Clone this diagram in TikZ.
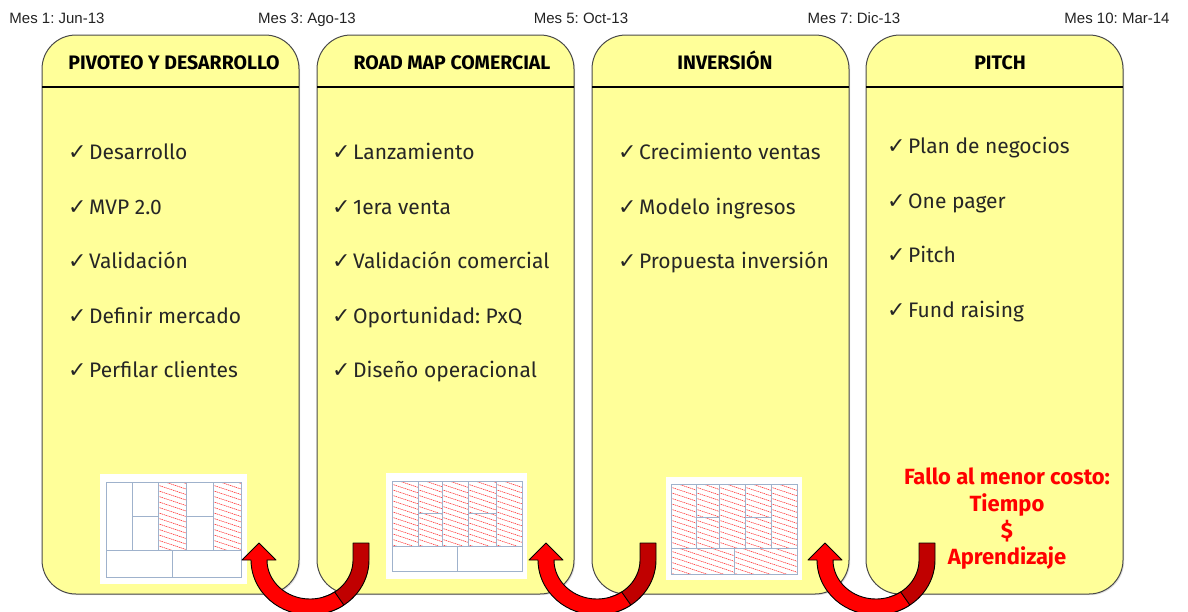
\documentclass[tikz,border=0pt]{standalone}
\usepackage{fontspec}
\setmainfont{Fira Sans}
\newfontfamily\arialf{Liberation Sans}
\newfontfamily\chkf{DejaVu Sans}
\usetikzlibrary{shadows}
\frenchspacing
\definecolor{boxyellow}{HTML}{FFFF99}
\definecolor{boxline}{HTML}{4A4A4A}
\definecolor{gridblue}{HTML}{9FB2CC}
\definecolor{arrowred}{HTML}{FF0000}
\definecolor{arrowdark}{HTML}{C00000}
\definecolor{labelgray}{HTML}{222222}
\newcommand\chk{\makebox[21pt][l]{\chkf\fontsize{22}{24}\selectfont ✓}}
\newcommand\hatchrect[4]{%
  \begin{scope}
    \clip (#1,#2) rectangle (#3,#4);
    \foreach \k in {0,...,22} {\draw[hatchline] (#1-2,{#2-14+5.5*\k}) -- ++(90,30);}
  \end{scope}}
\begin{document}
\begin{tikzpicture}[x=1pt,y=-1pt,
  phase/.style={draw=boxline,line width=1pt,fill=boxyellow,rounded corners=34pt,
    drop shadow={opacity=0.25,shadow xshift=1.2pt,shadow yshift=-1.2pt}},
  hdrline/.style={black,line width=1.6pt},
  hdr/.style={anchor=base,font=\bfseries\fontsize{19.5}{22}\selectfont,text=black,inner sep=0pt},
  item/.style={anchor=base west,font=\fontsize{21}{24}\selectfont,text=black!85,inner sep=0pt},
  mes/.style={anchor=base,font=\arialf\fontsize{15}{18}\selectfont,text=labelgray,inner sep=0pt},
  canvasbg/.style={fill=white,draw=none},
  grid/.style={draw=gridblue,line width=0.9pt},
  hatchline/.style={red!85,line width=0.55pt,dash pattern=on 1.3pt off 0.7pt},
  back/.style={fill=arrowdark,draw=black,line width=0.9pt,line join=round},
  front/.style={fill=arrowred,draw=black,line width=0.9pt,line join=round},
  fail/.style={align=center,font=\bfseries\fontsize{22}{26.7}\selectfont,text=arrowred,inner sep=0pt}]
\useasboundingbox (0,0) rectangle (1188,611);
\clip (0,0) rectangle (1188,611);

% timeline labels
\node[mes] (m1) at (57,23.5) {Mes 1: Jun-13};
\node[mes] (m3) at (307,23.5) {Mes 3: Ago-13};
\node[mes] (m5) at (581,23.5) {Mes 5: Oct-13};
\node[mes] (m7) at (854,23.5) {Mes 7: Dic-13};
\node[mes] (m10) at (1117,23.5) {Mes 10: Mar-14};

% phase boxes
\foreach \xl/\nm in {42/b1,317/b2,592/b3,866/b4}{
  \path[phase] (\xl,35) rectangle ++(257,559);
  \draw[hdrline] (\xl,87) -- ++(257,0);
}

% headers
\node[hdr] (h1) at (174,69) {PIVOTEO Y DESARROLLO};
\node[hdr] (h2) at (452,69) {ROAD MAP COMERCIAL};
\node[hdr] (h3) at (725,69) {INVERSIÓN};
\node[hdr] (h4) at (1000,69) {PITCH};

% items box 1
\node[item] (a1) at (68,159) {\chk Desarrollo};
\node[item] (a2) at (68,214) {\chk MVP 2.0};
\node[item] (a3) at (68,268) {\chk Validación};
\node[item] (a4) at (68,323) {\chk Definir mercado};
\node[item] (a5) at (68,377) {\chk Perfilar clientes};
% items box 2
\node[item] (c1) at (332,159) {\chk Lanzamiento};
\node[item] (c2) at (332,214) {\chk 1era venta};
\node[item] (c3) at (332,268) {\chk Validación comercial};
\node[item] (c4) at (332,323) {\chk Oportunidad: PxQ};
\node[item] (c5) at (332,377) {\chk Diseño operacional};
% items box 3
\node[item] (d1) at (618,159) {\chk Crecimiento ventas};
\node[item] (d2) at (618,214) {\chk Modelo ingresos};
\node[item] (d3) at (618,268) {\chk Propuesta inversión};
% items box 4
\node[item] (e1) at (887,153) {\chk Plan de negocios};
\node[item] (e2) at (887,208) {\chk One pager};
\node[item] (e3) at (887,262) {\chk Pitch};
\node[item] (e4) at (887,317) {\chk Fund raising};

% red message
\node[fail] (fail) at (1007,519) {Fallo al menor costo:\\Tiempo\\\$\\Aprendizaje};

% canvas 1
\path[canvasbg] (100,474) rectangle (247,584);
\hatchrect{158}{482}{186}{550}
\hatchrect{213}{482}{241}{550}
\draw[grid] (106,482) rectangle (241,577);
\draw[grid] (106,550) -- (241,550);
\foreach \xx in {132,158,186,213} {\draw[grid] (\xx,482) -- (\xx,550);}
\draw[grid] (132,516) -- (158,516) (186,516) -- (213,516);
\draw[grid] (172,550) -- (172,577);

% canvas 2
\path[canvasbg] (386,473) rectangle (527,579);
\hatchrect{392}{481}{418}{546}
\hatchrect{418}{481}{442}{546}
\hatchrect{442}{481}{468}{546}
\hatchrect{468}{481}{496}{546}
\hatchrect{496}{481}{522}{546}
\draw[grid] (392,481) rectangle (522,571);
\draw[grid] (392,546) -- (522,546);
\foreach \xx in {418,442,468,496} {\draw[grid] (\xx,481) -- (\xx,546);}
\draw[grid] (418,513) -- (442,513) (468,513) -- (496,513);
\draw[grid] (457,546) -- (457,571);

% canvas 3
\path[canvasbg] (666,477) rectangle (802,580);
\hatchrect{671}{484}{696}{548}
\hatchrect{696}{484}{719}{548}
\hatchrect{719}{484}{745}{548}
\hatchrect{745}{484}{771}{548}
\hatchrect{771}{484}{797}{548}
\hatchrect{671}{548}{734}{574}
\hatchrect{734}{548}{797}{574}
\draw[grid] (671,484) rectangle (797,574);
\draw[grid] (671,548) -- (797,548);
\foreach \xx in {696,719,745,771} {\draw[grid] (\xx,484) -- (\xx,548);}
\draw[grid] (696,517) -- (719,517) (745,517) -- (771,517);
\draw[grid] (734,548) -- (734,574);

% U-turn arrows
\foreach \cx in {310,597,876}{
  \begin{scope}[shift={(\cx,560)}]
    \path[back] (43,-17) -- (59,-17) -- (59,0)
      arc[start angle=0,end angle=72,x radius=59,y radius=55]
      -- (13.3,37.1)
      arc[start angle=72,end angle=0,x radius=43,y radius=39] -- cycle;
    \path[front] (33.84,45.05)
      arc[start angle=55,end angle=180,x radius=59,y radius=55]
      -- (-68,0) -- (-51,-17) -- (-34,0) -- (-43,0)
      arc[start angle=180,end angle=55,x radius=43,y radius=39] -- cycle;
  \end{scope}
}
\end{tikzpicture}
\end{document}
